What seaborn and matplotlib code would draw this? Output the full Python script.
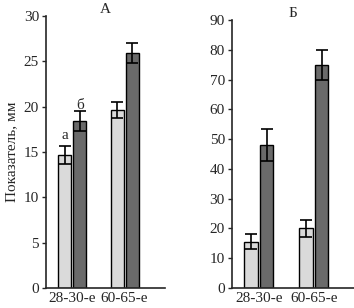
import pandas as pd
import numpy as np
import matplotlib
matplotlib.use('Agg')
import matplotlib.pyplot as plt
import seaborn as sns

# данные
periods = ['28-30-е', '60-65-е']
groups = ['g1', 'g2']
a_vals = [14.7, 18.4, 19.6, 25.9]
a_err = [1.0, 1.1, 0.9, 1.1]
b_vals = [15.5, 48.0, 20.0, 75.0]
b_err = [2.5, 5.5, 3.0, 5.0]
colors = ['#dadada', '#6a6a6a']

sns.set_style('ticks')
plt.rcParams['font.family'] = ['Liberation Serif', 'DejaVu Serif']
plt.rcParams['font.size'] = 11

fig = plt.figure(figsize=(3.54, 3.08), dpi=100)
ax1 = fig.add_axes([0.130, 0.065, 0.336, 0.883])
ax2 = fig.add_axes([0.655, 0.065, 0.345, 0.870])


def draw(ax, vals, errs, ymax, step, title, xr, pad):
    df = pd.DataFrame({
        'period': [p for p in periods for _ in groups],
        'grp': groups * len(periods),
        'val': vals,
    })
    sns.barplot(data=df, x='period', y='val', hue='grp', palette=colors,
                width=0.57, gap=0.13, errorbar=None, edgecolor='black',
                linewidth=1.0, legend=False, ax=ax)
    # порядок патчей: по hue, затем по категориям
    bars = ax.patches
    order = [0, 2, 1, 3]
    xs = [bars[i].get_x() + bars[i].get_width() / 2 for i in order]
    ax.errorbar(xs, vals, yerr=errs, fmt='none', ecolor='black',
                elinewidth=1.2, capsize=4, capthick=1.2)
    ax.set_ylim(0, ymax)
    ax.set_yticks(np.arange(0, ymax + 1, step))
    ax.set_xlim(*xr)
    ax.set_xlabel('')
    ax.set_ylabel('')
    ax.set_title(title, fontsize=11, pad=pad)
    ax.tick_params(axis='x', length=0, pad=3)
    ax.tick_params(axis='y', length=3, width=1, pad=2)
    sns.despine(ax=ax)
    for s in ['left', 'bottom']:
        ax.spines[s].set_linewidth(1.2)
    return xs


xs = draw(ax1, a_vals, a_err, 30, 5, 'А', (-0.5, 1.77), 2)
ax1.set_ylabel('Показатель, мм', fontsize=11, labelpad=4)
ax1.text(xs[0], a_vals[0] + a_err[0] + 0.4, 'а', ha='center', va='bottom', fontsize=11)
ax1.text(xs[1], a_vals[1] + a_err[1] - 0.1, 'б', ha='center', va='bottom', fontsize=11)

draw(ax2, b_vals, b_err, 90, 10, 'Б', (-0.49, 1.73), 2)

fig.savefig('out.png', dpi=100)
